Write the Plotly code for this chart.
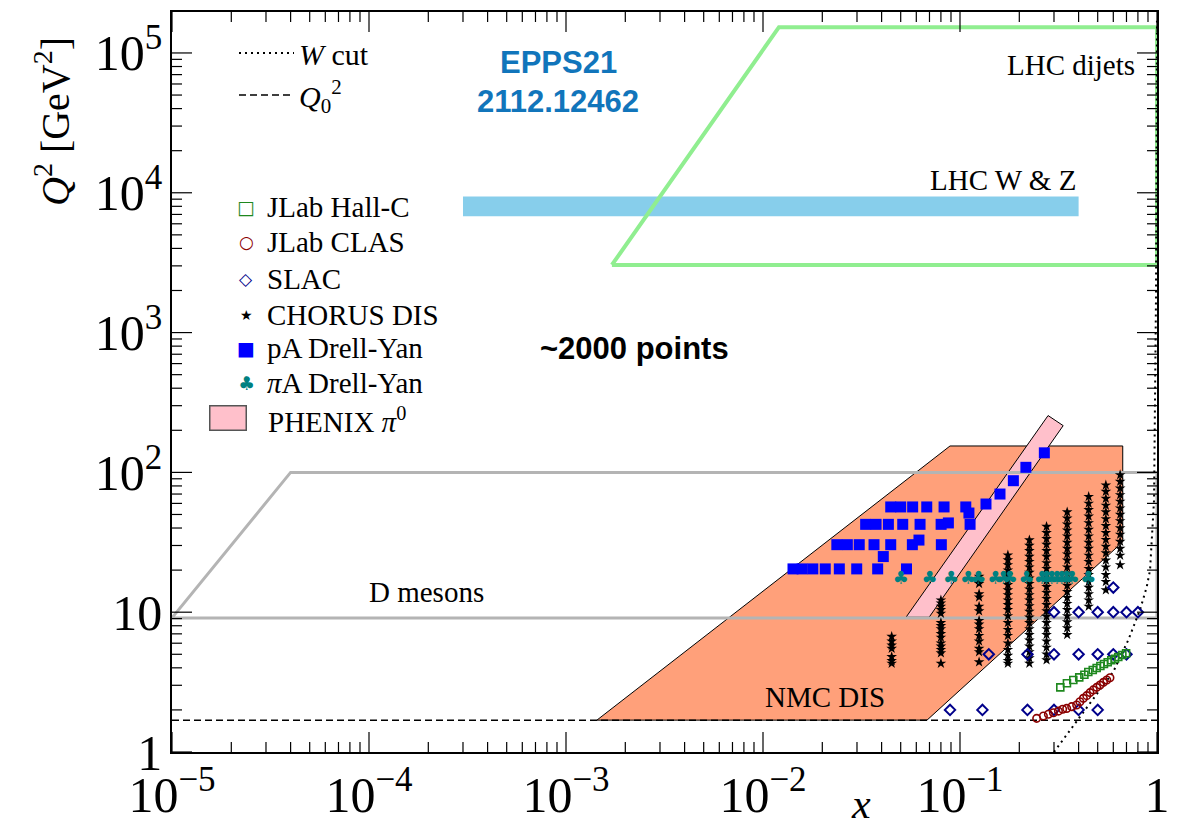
import math
import plotly.graph_objects as go

# ---------------- data (x, Q^2) ----------------
# kinematic regions (polygon vertices)
wz_x = [3.0e-4, 0.40, 0.40, 3.0e-4]
wz_q2 = [6800, 6800, 9400, 9400]
dijet_x = [1.71e-3, 0.01205, 1.0, 1.0]
dijet_q2 = [3045, 1.53e5, 1.53e5, 3045]
nmc_x = [1.435e-3, 0.089, 0.67, 0.67, 0.068]
nmc_q2 = [1.69, 154.5, 154.5, 31.8, 1.69]
phenix_x = [0.0532, 0.280, 0.334, 0.0697]
phenix_q2 = [9.2, 255, 216, 9.2]
dmes_x = [1e-5, 4.0e-5, 1.0, 1.0]
dmes_q2 = [9.1, 100, 100, 9.1]

# cuts
q0_x = [1e-5, 1.0]
q0_q2 = [1.69, 1.69]
wcut_x = [0.30, 0.406, 0.60, 0.715, 0.82, 0.887, 0.922, 0.966, 0.988, 0.9995]
wcut_q2 = [1.0, 1.79, 3.75, 6.33, 10.4, 15.2, 20.0, 63.5, 1700, 1.7e5]

# CHORUS DIS (x bins and Q^2 values in each bin)
chorus_xbins = [0.045, 0.08, 0.125, 0.175, 0.225, 0.275, 0.35, 0.45, 0.55, 0.65]
chorus_q2 = [
    [6.7, 6.2, 5.8, 5.5, 4.8, 4.5, 4.3],
    [12.2, 11.6, 11.0, 10.4, 9.8, 8.4, 8.0, 7.6, 7.0, 6.6, 6.0, 5.7, 5.4, 5.1, 4.3],
    [18.0, 17.0, 16.0, 13.5, 12.8, 11.0, 10.2, 8.7, 8.2, 7.6, 6.8, 6.2, 5.5, 5.2, 4.4],
    [25.6, 23.6, 21.8, 20.0, 18.5, 17.0, 15.7, 14.4, 13.3, 12.2, 11.3, 10.4, 9.4, 8.4,
     7.5, 6.8, 6.0, 5.4, 4.9, 4.5, 4.3],
    [32.8, 30.0, 27.5, 25.0, 23.0, 21.0, 19.2, 17.5, 16.0, 14.6, 13.3, 12.2, 11.1, 10.1,
     9.2, 8.4, 7.6, 6.9, 6.3, 5.7, 5.2, 4.7, 4.3],
    [41.0, 37.0, 33.5, 30.5, 27.5, 25.0, 22.5, 20.5, 18.5, 16.8, 15.2, 13.8, 12.5, 11.3,
     10.2, 9.3, 8.4, 7.6, 6.9, 6.2, 5.6, 5.0, 4.55],
    [52.0, 47.0, 42.5, 38.5, 35.0, 31.5, 28.5, 26.0, 23.5, 21.0, 19.0, 17.2, 15.5, 14.0,
     12.7, 11.5, 10.4, 9.4, 8.5, 7.7, 6.9],
    [67.0, 60.0, 54.0, 48.5, 43.5, 39.0, 35.0, 31.5, 28.5, 25.5, 23.0, 20.5, 18.5, 16.5,
     15.0, 13.5, 12.2, 11.0],
    [81.0, 73.0, 65.0, 58.0, 52.0, 46.5, 41.5, 37.0, 33.0, 29.5, 26.5, 23.5, 21.0, 18.5,
     16.5, 14.4],
    [96.0, 86.0, 77.0, 69.0, 62.0, 55.5, 50.0, 45.0, 40.0, 36.0, 32.0, 28.5, 25.5, 21.8],
]

# pA Drell-Yan
pa_x = [0.0142, 0.0158, 0.0179, 0.0207, 0.0244, 0.0299, 0.0382, 0.0535,
        0.0408,
        0.0237, 0.0268, 0.0308, 0.0366, 0.0445, 0.0573, 0.0804, 0.0619,
        0.0332, 0.0375, 0.0433, 0.0512, 0.0627, 0.0802, 0.1125, 0.0873,
        0.0445, 0.0500, 0.0575, 0.0678, 0.0830, 0.107, 0.111,
        0.1355, 0.1596, 0.1866, 0.216, 0.268]
pa_q2 = [20.4, 20.4, 20.4, 20.4, 20.4, 20.4, 20.4, 20.4,
         25.0,
         30.4, 30.4, 30.4, 30.4, 30.4, 30.4, 30.4, 32.8,
         42.5, 42.5, 42.5, 42.5, 42.5, 42.5, 42.5, 43.5,
         56.6, 56.6, 56.6, 56.6, 56.6, 56.6, 51.2,
         59.4, 70.0, 87.2, 108.7, 138.0]

# pi A Drell-Yan
pia_x = [0.050, 0.070, 0.090, 0.110, 0.124, 0.151, 0.166, 0.179, 0.218,
         0.260, 0.275, 0.292, 0.310, 0.328, 0.348, 0.369, 0.448]
pia_q2 = [17.2] * 17

# SLAC
slac_x = [0.089, 0.13, 0.22, 0.30, 0.40, 0.50,
          0.14, 0.22, 0.30, 0.40, 0.50, 0.60, 0.70,
          0.30, 0.40, 0.50, 0.60, 0.70, 0.80,
          0.60]
slac_q2 = [2.0, 2.0, 2.0, 2.0, 2.0, 2.0,
           5.0, 5.0, 5.0, 5.0, 5.0, 5.0, 5.0,
           10.0, 10.0, 10.0, 10.0, 10.0, 10.0,
           15.0]

# JLab Hall-C
hallc_x = [0.323, 0.349, 0.376, 0.403, 0.428, 0.448, 0.472, 0.494,
           0.516, 0.538, 0.562, 0.586, 0.612, 0.636, 0.667, 0.697]
hallc_q2 = [2.90, 3.10, 3.27, 3.42, 3.57, 3.73, 3.86, 3.99,
            4.12, 4.26, 4.38, 4.53, 4.65, 4.78, 4.94, 5.08]

# JLab CLAS
clas_x = [0.245, 0.265, 0.281, 0.298, 0.316, 0.332, 0.348, 0.369, 0.391, 0.406,
          0.423, 0.440, 0.457, 0.475, 0.494, 0.514, 0.535, 0.556, 0.577]
clas_q2 = [1.74, 1.81, 1.86, 1.91, 1.96, 2.02, 2.05, 2.11, 2.17, 2.29,
           2.42, 2.53, 2.66, 2.78, 2.90, 3.01, 3.15, 3.27, 3.40]

# ---------------- figure ----------------
SERIF = "Liberation Serif"
SANS = "Liberation Sans"
W, H = 1179, 830
ML, MR, MT, MB = 172, 22, 12, 78
PW, PH = W - ML - MR, H - MT - MB
X_RANGE = [-5, 0]
Y_RANGE = [0, 5.293]
MAJOR_LEN, MINOR_LEN = 20, 10


def P(px, py):
    return (px - ML) / PW, (H - MB - py) / PH


def closed(a):
    return list(a) + [a[0]]


fig = go.Figure()

fig.add_trace(go.Scatter(x=closed(wz_x), y=closed(wz_q2), mode="lines", fill="toself",
                         fillcolor="#87CEEB", line=dict(width=0), showlegend=False,
                         hoverinfo="skip"))
fig.add_trace(go.Scatter(x=closed(dijet_x), y=closed(dijet_q2), mode="lines",
                         line=dict(color="#90EE90", width=4), showlegend=False,
                         hoverinfo="skip"))
fig.add_trace(go.Scatter(x=closed(nmc_x), y=closed(nmc_q2), mode="lines", fill="toself",
                         fillcolor="#FFA07A", line=dict(color="black", width=1),
                         showlegend=False, hoverinfo="skip"))
fig.add_trace(go.Scatter(x=closed(phenix_x), y=closed(phenix_q2), mode="lines",
                         fill="toself", fillcolor="#FFC0CB",
                         line=dict(color="black", width=1), showlegend=False,
                         hoverinfo="skip"))
fig.add_trace(go.Scatter(x=closed(dmes_x), y=closed(dmes_q2), mode="lines",
                         line=dict(color="#B4B4B4", width=3), showlegend=False,
                         hoverinfo="skip"))
fig.add_trace(go.Scatter(x=wcut_x, y=wcut_q2, mode="lines", name="<i>W</i> cut",
                         line=dict(color="black", width=2, dash="2px,4px")))
fig.add_trace(go.Scatter(x=q0_x, y=q0_q2, mode="lines",
                         name="<i>Q</i><sub>0</sub><sup>2</sup>",
                         line=dict(color="black", width=1.5, dash="7px,4px")))

cx, cq = [], []
for xb, qs in zip(chorus_xbins, chorus_q2):
    for q in qs:
        cx.append(xb)
        cq.append(q)
fig.add_trace(go.Scatter(x=cx, y=cq, mode="markers", showlegend=False,
                         marker=dict(symbol="star", size=8, color="black",
                                     line=dict(width=0))))
fig.add_trace(go.Scatter(x=pa_x, y=pa_q2, mode="markers", showlegend=False,
                         marker=dict(symbol="square", size=11, color="#0000FF",
                                     line=dict(width=0))))
fig.add_trace(go.Scatter(x=pia_x, y=pia_q2, mode="text", text=["\u2663"] * len(pia_x),
                         textposition="middle center", showlegend=False,
                         textfont=dict(family="DejaVu Sans", size=18, color="#008080")))
fig.add_trace(go.Scatter(x=slac_x, y=slac_q2, mode="markers", showlegend=False,
                         marker=dict(symbol="diamond-open", size=8, color="#00008B",
                                     line=dict(width=2, color="#00008B"))))
fig.add_trace(go.Scatter(x=hallc_x, y=hallc_q2, mode="markers", showlegend=False,
                         marker=dict(symbol="square-open", size=7, color="#1E881E",
                                     line=dict(width=1.6, color="#1E881E"))))
fig.add_trace(go.Scatter(x=clas_x, y=clas_q2, mode="markers", showlegend=False,
                         marker=dict(symbol="circle-open", size=7.5, color="#8B0000",
                                     line=dict(width=1.6, color="#8B0000"))))

# ---- inward tick marks on all four sides (ROOT style), derived from the axis ranges
px_per_dec_x = PW / (X_RANGE[1] - X_RANGE[0])
px_per_dec_y = PH / (Y_RANGE[1] - Y_RANGE[0])
tx, ty = [], []


def tick_positions(lo, hi):
    out = []
    for e in range(int(math.floor(lo)), int(math.ceil(hi)) + 1):
        for m in range(1, 10):
            v = m * 10.0 ** e
            lv = math.log10(v)
            if lo - 1e-9 <= lv <= hi + 1e-9:
                out.append((v, MAJOR_LEN if m == 1 else MINOR_LEN))
    return out


for v, L in tick_positions(*X_RANGE):
    d = L / px_per_dec_y
    tx += [v, v, None, v, v, None]
    ty += [10 ** Y_RANGE[0], 10 ** (Y_RANGE[0] + d), None,
           10 ** (Y_RANGE[1] - d), 10 ** Y_RANGE[1], None]
for v, L in tick_positions(*Y_RANGE):
    d = L / px_per_dec_x
    tx += [10 ** X_RANGE[0], 10 ** (X_RANGE[0] + d), None,
           10 ** (X_RANGE[1] - d), 10 ** X_RANGE[1], None]
    ty += [v, v, None, v, v, None]
fig.add_trace(go.Scatter(x=tx, y=ty, mode="lines", line=dict(color="black", width=1.2),
                         connectgaps=False, showlegend=False, hoverinfo="skip"))

axis_common = dict(type="log", showgrid=False, zeroline=False, showline=True,
                   linecolor="black", linewidth=1.5, mirror=True, ticks="",
                   tickmode="linear", tick0=0, dtick=1, exponentformat="power",
                   automargin=False,
                   tickfont=dict(family=SERIF, size=40, color="black"))

fig.update_layout(
    xaxis=dict(range=X_RANGE, **axis_common),
    yaxis=dict(range=Y_RANGE, **axis_common),
)

ann = []


def text_at(px, py, text, size=29, family=SERIF, color="black", xanchor="left",
            bold=False, angle=0):
    x, y = P(px, py)
    t = "<b>" + text + "</b>" if bold else text
    ann.append(dict(x=x, y=y, xref="paper", yref="paper", text=t, showarrow=False,
                    xanchor=xanchor, yanchor="middle", textangle=angle,
                    font=dict(family=family, size=size, color=color)))


text_at(558, 63, "EPPS21", size=31, family=SANS, color="#1175BB", xanchor="center", bold=True)
text_at(558, 102, "2112.12462", size=31, family=SANS, color="#1175BB", xanchor="center", bold=True)
text_at(634, 348, "~2000 points", size=31, family=SANS, xanchor="center", bold=True)
text_at(1005, 65, "LHC dijets")
text_at(928, 180, "LHC W &amp; Z")
text_at(367, 592, "D mesons")
text_at(763, 697, "NMC DIS")
text_at(52, 122, "<i>Q</i><sup>2</sup> [GeV<sup>2</sup>]", size=40, xanchor="center", angle=-90)
text_at(861, 804, "<i>x</i>", size=42, xanchor="center")

# marker legend
leg_rows = [("\u25A1", "#1E881E", 19, "JLab Hall-C", 207),
            ("\u25CB", "#8B0000", 17, "JLab CLAS", 242),
            ("\u25C7", "#00008B", 17, "SLAC", 279),
            ("\u2605", "black", 14, "CHORUS DIS", 315),
            ("\u25A0", "#0000FF", 19, "pA Drell-Yan", 348),
            ("\u2663", "#008080", 19, "<i>\u03c0</i>A Drell-Yan", 383)]
for sym, col, ssz, label, py in leg_rows:
    text_at(246, py, sym, size=ssz, family="DejaVu Sans", color=col, xanchor="center")
    text_at(265, py, label)
bx, by = P(228, 418)
ann.append(dict(x=bx, y=by, xref="paper", yref="paper", text=" ", showarrow=False,
                xanchor="center", yanchor="middle", width=33, height=21,
                bgcolor="#FFC0CB", bordercolor="#555555", borderwidth=1.5,
                font=dict(size=10)))
text_at(266, 420, "PHENIX <i>\u03c0</i><sup>0</sup>")

lx, ly = P(234, 27)
fig.update_layout(
    width=W, height=H,
    margin=dict(l=ML, r=MR, t=MT, b=MB, pad=0, autoexpand=False),
    paper_bgcolor="white", plot_bgcolor="white",
    annotations=ann,
    showlegend=True,
    legend=dict(x=lx, y=ly, xanchor="left", yanchor="top", bgcolor="rgba(0,0,0,0)",
                borderwidth=0, itemwidth=55, tracegroupgap=0,
                font=dict(family=SERIF, size=30, color="black")),
)

fig.write_html("out.html")
